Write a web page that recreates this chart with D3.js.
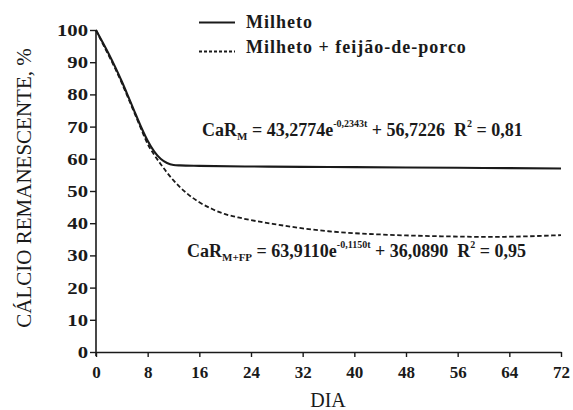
<!DOCTYPE html>
<html><head><meta charset="utf-8">
<script src="https://cdn.jsdelivr.net/npm/d3@7"></script>
<style>
body{margin:0;background:#fff;}
svg text{font-family:"Liberation Serif","DejaVu Serif","Times New Roman",Times,serif;fill:#1a1a1a;white-space:pre;}
</style></head>
<body><svg id="c" width="573" height="410"></svg>
<script>
// Data
const daysM   = [0,1,2,3,4,5,6,7,8,9,10,11,12,13,16,24,32,40,48,56,64,72];
const valuesM = [100,96.3,92.5,88.4,84.0,79.3,74.5,69.8,65.6,62.3,60.0,58.7,58.1,57.95,57.8,57.6,57.5,57.4,57.3,57.2,57.1,57.0];
const daysMFP   = [0,1,2,3,4,5,6,7,8,9,10,11,12,13,14,16,18,20,22,24,28,32,36,40,44,48,52,56,60,64,68,72];
const valuesMFP = [100,95.9,92.0,87.9,83.5,78.8,74.0,69.2,64.6,61.3,58.4,55.7,53.3,51.2,49.4,46.5,44.4,42.8,41.8,40.95,39.6,38.4,37.5,36.9,36.5,36.2,36.0,35.85,35.75,35.8,36.0,36.3];
const xTicks = [0,8,16,24,32,40,48,56,64,72];
const yTicks = [0,10,20,30,40,50,60,70,80,90,100];
const seriesNames = ["Milheto","Milheto + feijão-de-porco"];

const svg = d3.select("#c");
const x = d3.scaleLinear().domain([0,72]).range([96,561]);
const y = d3.scaleLinear().domain([0,100]).range([352,30]);

// axes
const gx = svg.append("g").attr("transform","translate(0,352)")
  .call(d3.axisBottom(x).tickValues(xTicks).tickSize(5).tickSizeOuter(0).tickPadding(9));
gx.select(".domain").attr("stroke","#1a1a1a").attr("stroke-width",1.6);
gx.selectAll(".tick line").attr("stroke","#1a1a1a").attr("stroke-width",1.4);
gx.selectAll(".tick text").attr("font-size",17).attr("font-weight","bold").attr("fill","#1a1a1a");

const gy = svg.append("g").attr("transform","translate(96,0)")
  .call(d3.axisLeft(y).tickValues(yTicks).tickSize(6).tickSizeOuter(0));
gy.select(".domain").attr("stroke","#1a1a1a").attr("stroke-width",1.6).attr("d","M0,30V356");
gy.selectAll(".tick line").attr("stroke","#1a1a1a").attr("stroke-width",1.4);
gy.selectAll(".tick text").attr("font-size",17).attr("font-weight","bold").attr("fill","#1a1a1a")
  .attr("transform","scale(1.22,1)").attr("x",-8/1.22);

// lines
const line = d3.line().x(d=>x(d[0])).y(d=>y(d[1])).curve(d3.curveMonotoneX);
svg.append("path").datum(daysMFP.map((d,i)=>[d,valuesMFP[i]]))
  .attr("d",line).attr("fill","none").attr("stroke","#1a1a1a")
  .attr("stroke-width",1.8).attr("stroke-dasharray","4.5,2.5");
svg.append("path").datum(daysM.map((d,i)=>[d,valuesM[i]]))
  .attr("d",line).attr("fill","none").attr("stroke","#1a1a1a").attr("stroke-width",2.1);

// axis titles
svg.append("text").attr("x",328).attr("y",407).attr("text-anchor","middle")
  .attr("font-size",20).text("DIA");
svg.append("text").attr("transform","translate(31,188) rotate(-90)").attr("text-anchor","middle")
  .attr("font-size",21).text("CÁLCIO REMANESCENTE, %");

// legend
const leg = svg.append("g");
leg.append("line").attr("x1",199).attr("x2",235).attr("y1",22.5).attr("y2",22.5)
  .attr("stroke","#1a1a1a").attr("stroke-width",2);
leg.append("line").attr("x1",199).attr("x2",235).attr("y1",51.5).attr("y2",51.5)
  .attr("stroke","#1a1a1a").attr("stroke-width",1.8).attr("stroke-dasharray","3,2");
leg.append("text").attr("x",246).attr("y",28).attr("font-size",18).attr("font-weight","bold")
  .attr("letter-spacing",1).text(seriesNames[0]);
leg.append("text").attr("x",246).attr("y",53).attr("font-size",18).attr("font-weight","bold")
  .attr("letter-spacing",1).text(seriesNames[1]);

// equations
function eq(xp, yp, sub, coef, exp, cst, r2){
  const t = svg.append("text").attr("x",xp).attr("y",yp).attr("font-size",18).attr("font-weight","bold");
  t.append("tspan").text("CaR");
  t.append("tspan").attr("font-size",11).attr("dy",4).text(sub);
  t.append("tspan").attr("dy",-4).text(" = "+coef+"e");
  t.append("tspan").attr("font-size",10).attr("dy",-9).text(exp);
  t.append("tspan").attr("dy",9).text(" + "+cst+"  R");
  t.append("tspan").attr("font-size",10).attr("dy",-9).text("2");
  t.append("tspan").attr("dy",9).text(" = "+r2);
}
eq(202,136,"M","43,2774","-0,2343t","56,7226","0,81");
eq(187,257,"M+FP","63,9110","-0,1150t","36,0890","0,95");
</script></body></html>
